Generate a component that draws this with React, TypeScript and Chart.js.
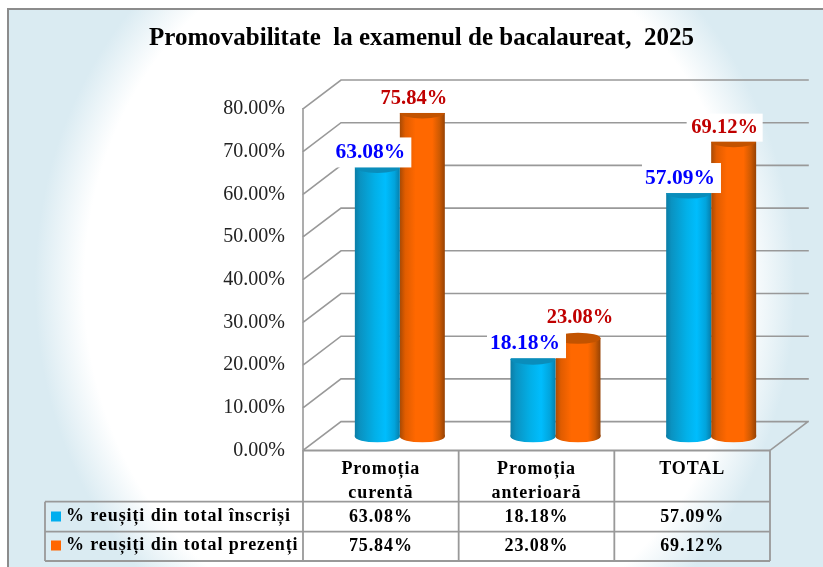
import React, { useEffect, useRef } from "react";
import { Chart, registerables } from "chart.js";

Chart.register(...registerables);

const title = "Promovabilitate  la examenul de bacalaureat,  2025";
const categories = [["Promoția", "curentă"], ["Promoția", "anterioară"], ["TOTAL"]];
const seriesNames = ["% reușiți din total înscriși", "% reușiți din total prezenți"];
const inscrisi = [63.08, 18.18, 57.09];
const prezenti = [75.84, 23.08, 69.12];
const axisMin = 0;
const axisMax = 80;
const axisStep = 10;

const SERIF = '"Liberation Serif", "Times New Roman", serif';
const GRID = "#999999";
const depthX = 19;
const depthBack = 15.2;
const depthFront = 13.7;
const capRy = 5.5;
const groupPct = 0.578;

const stops = [
  [[0, "#0B7DA6"], [0.12, "#0A93C2"], [0.45, "#02B0E8"], [0.68, "#00BDFD"], [0.88, "#02A4DC"], [1, "#067FAC"]],
  [[0, "#A84A04"], [0.12, "#E05C00"], [0.35, "#FF6800"], [0.72, "#FF6800"], [0.88, "#CE5A02"], [1, "#964204"]],
];
const capColors = ["#0A8DBB", "#C25300"];
const labelColors = ["#0000FF", "#C00000"];
const swatchColors = ["#00AEEF", "#FF6600"];
// label placement relative to each bar: [dx, lift]
const labelNudges = [
  [[-7, 0], [-8, 1], [-8.7, 0]],
  [[-8.5, 0], [2, 7], [-9, 0]],
];
// white plate extent around the label centre: [left, right, height]
const plates = [
  [38, 41, 30],
  [38, 38, 28],
];

function barFill(c: any) {
  const chart = c.chart;
  const x = chart.scales.x;
  if (!x || c.dataIndex === undefined || !x.width) return capColors[c.datasetIndex];
  const w = (x.width / categories.length) * groupPct * 0.5;
  const cx = x.getPixelForValue(c.dataIndex);
  const left = cx + (c.datasetIndex - 1) * w;
  const g = chart.ctx.createLinearGradient(left, 0, left + w, 0);
  stops[c.datasetIndex].forEach(([o, col]: any) => g.addColorStop(o, col));
  return g;
}

const scene = {
  id: "scene",
  beforeDraw(chart: any) {
    const { ctx, width, height } = chart;
    ctx.save();
    ctx.fillStyle = "#FFFFFF";
    ctx.fillRect(0, 0, width, height);
    // framed picture with an elliptical white glow
    ctx.beginPath();
    ctx.rect(8, 9, width, height);
    ctx.clip();
    ctx.translate(415, 285);
    ctx.scale(380, 415);
    const g = ctx.createRadialGradient(0, 0, 0, 0, 0, 1);
    g.addColorStop(0, "#FFFFFF");
    g.addColorStop(0.87, "#FFFFFF");
    g.addColorStop(1, "#DAEBF2");
    ctx.fillStyle = g;
    ctx.fillRect(-2, -2, 4, 4);
    ctx.restore();
    ctx.save();
    ctx.strokeStyle = "#8C8C8C";
    ctx.lineWidth = 2;
    ctx.beginPath();
    ctx.moveTo(8, height);
    ctx.lineTo(8, 9);
    ctx.lineTo(width, 9);
    ctx.stroke();
    // title
    ctx.fillStyle = "#000000";
    ctx.font = `bold 25px ${SERIF}`;
    ctx.textAlign = "center";
    ctx.textBaseline = "middle";
    ctx.fillText(title, 421.5, 38.5);
    ctx.restore();
  },
  beforeDatasetsDraw(chart: any) {
    const { ctx, scales } = chart;
    const y = scales.y;
    const x = scales.x;
    const left = x.left - depthX;
    const back = x.left + depthX;
    const right = x.right + depthX;
    ctx.save();
    ctx.strokeStyle = GRID;
    ctx.lineWidth = 1.6;
    ctx.lineCap = "square";
    ctx.beginPath();
    for (let v = axisMin; v <= axisMax; v += axisStep) {
      const p = y.getPixelForValue(v);
      ctx.moveTo(left, p + depthFront);
      ctx.lineTo(back, p - depthBack);
      ctx.lineTo(right, p - depthBack);
    }
    const y0 = y.getPixelForValue(axisMin);
    const yTop = y.getPixelForValue(axisMax);
    ctx.moveTo(left, yTop + depthFront);
    ctx.lineTo(left, y0 + depthFront);
    // floor edge
    ctx.moveTo(right, y0 - depthBack);
    ctx.lineTo(x.right - depthX, y0 + depthFront);
    ctx.stroke();
    ctx.restore();
    drawTable(chart);
  },
  afterDatasetsDraw(chart: any) {
    const { ctx } = chart;
    [0, 1].forEach((di) => {
      const meta = chart.getDatasetMeta(di);
      meta.data.forEach((bar: any, i: number) => {
        const { x, y, base, width } = bar.getProps(["x", "y", "base", "width"], true);
        const rx = width / 2;
        ctx.save();
        ctx.fillStyle = barFill({ chart, datasetIndex: di, dataIndex: i });
        ctx.beginPath();
        ctx.ellipse(x, base, rx, capRy, 0, 0, Math.PI);
        ctx.lineTo(x - rx, base - 2);
        ctx.lineTo(x + rx, base - 2);
        ctx.closePath();
        ctx.fill();
        ctx.fillStyle = capColors[di];
        ctx.beginPath();
        ctx.ellipse(x, y, rx, capRy, 0, 0, Math.PI * 2);
        ctx.fill();
        ctx.restore();
      });
    });
    // labels with their white plates, orange first so the blue plate overlaps
    [1, 0].forEach((di) => {
      const meta = chart.getDatasetMeta(di);
      meta.data.forEach((bar: any, i: number) => {
        const [dx, lift] = labelNudges[di][i];
        const { x, y } = bar.getProps(["x", "y"], true);
        const cx = x + dx;
        const bottom = y - lift;
        const [pl, pr, boxH] = plates[di];
        ctx.save();
        ctx.fillStyle = "#FFFFFF";
        ctx.fillRect(cx - pl, bottom - boxH, pl + pr, boxH);
        ctx.fillStyle = labelColors[di];
        ctx.font = `bold ${di === 0 ? 21.5 : 20.5}px ${SERIF}`;
        ctx.textAlign = "center";
        ctx.textBaseline = "middle";
        const v = (di === 0 ? inscrisi : prezenti)[i];
        ctx.fillText(v.toFixed(2) + "%", cx, bottom - boxH / 2);
        ctx.restore();
      });
    });
  },
};

function drawTable(chart: any) {
  const { ctx, scales } = chart;
  const x = scales.x;
  const y = scales.y;
  const left = x.left - depthX;
  const cat = x.width / categories.length;
  const top = y.getPixelForValue(axisMin) + depthFront;
  const rows = [501.7, 531.7, 561];
  const tableLeft = 45;
  ctx.save();
  ctx.strokeStyle = GRID;
  ctx.lineWidth = 1.8;
  ctx.beginPath();
  ctx.moveTo(left, top);
  ctx.lineTo(left + cat * 3, top);
  rows.forEach((r) => {
    ctx.moveTo(tableLeft, r);
    ctx.lineTo(left + cat * 3, r);
  });
  for (let i = 0; i <= 3; i++) {
    ctx.moveTo(left + cat * i, top);
    ctx.lineTo(left + cat * i, rows[2]);
  }
  ctx.moveTo(tableLeft, rows[0]);
  ctx.lineTo(tableLeft, rows[2]);
  ctx.stroke();

  ctx.fillStyle = "#000000";
  ctx.font = `bold 18px ${SERIF}`;
  ctx.letterSpacing = "0.9px";
  ctx.textBaseline = "middle";
  ctx.textAlign = "center";
  categories.forEach((lines, i) => {
    const cx = left + cat * (i + 0.5);
    lines.forEach((ln, j) => ctx.fillText(ln, cx, 469 + j * 24));
    ctx.fillText(inscrisi[i].toFixed(2) + "%", cx, 517);
    ctx.fillText(prezenti[i].toFixed(2) + "%", cx, 546.5);
  });
  ctx.textAlign = "left";
  seriesNames.forEach((name, i) => {
    const cy = i === 0 ? 516.5 : 545.5;
    ctx.fillStyle = swatchColors[i];
    ctx.fillRect(51, cy - 5, 10, 10);
    ctx.fillStyle = "#000000";
    ctx.fillText(name, 66, cy);
  });
  ctx.restore();
}

export default function App() {
  const ref = useRef<HTMLCanvasElement | null>(null);
  useEffect(() => {
    document.body.style.margin = "0";
    const chart = new Chart(ref.current as HTMLCanvasElement, {
      type: "bar",
      data: {
        labels: categories.map((c) => c.join(" ")),
        datasets: [
          { label: seriesNames[0], data: inscrisi, backgroundColor: barFill, borderWidth: 0 },
          { label: seriesNames[1], data: prezenti, backgroundColor: barFill, borderWidth: 0 },
        ],
      },
      options: {
        responsive: false,
        animation: false,
        events: [],
        datasets: { bar: { categoryPercentage: groupPct, barPercentage: 1 } },
        layout: { padding: { left: 0, top: 95.2, right: 34, bottom: 130.2 } },
        plugins: { legend: { display: false }, title: { display: false }, tooltip: { enabled: false } },
        scales: {
          x: { display: false, grid: { display: false } },
          y: {
            min: axisMin,
            max: axisMax,
            afterFit(s: any) {
              s.width = 322;
            },
            border: { display: false },
            grid: { display: false, drawTicks: false },
            ticks: {
              stepSize: axisStep,
              padding: 37,
              labelOffset: 13.7,
              color: "#222222",
              font: { family: SERIF, size: 20 },
              callback: (v: any) => Number(v).toFixed(2) + "%",
            },
          },
        },
      } as any,
      plugins: [scene],
    });
    return () => chart.destroy();
  }, []);
  return <canvas ref={ref} width={823} height={567} style={{ display: "block" }} />;
}
